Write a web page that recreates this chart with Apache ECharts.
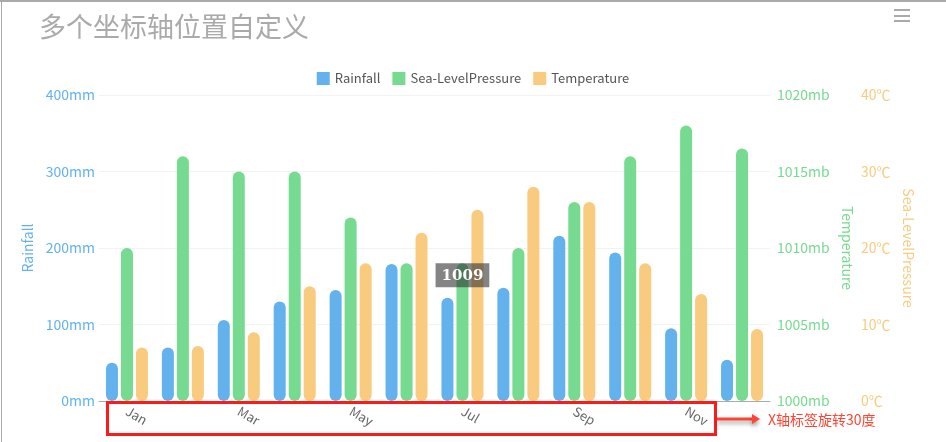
<!DOCTYPE html>
<html>
<head>
<meta charset="utf-8">
<title>多个坐标轴位置自定义</title>
<script src="https://cdn.jsdelivr.net/npm/echarts@6/dist/echarts.min.js"></script>
<style>
  html, body { margin: 0; padding: 0; background: #fff; }
  #main { width: 946px; height: 442px; }
</style>
</head>
<body>
<div id="main"></div>
<script>
var months = ['Jan', 'Feb', 'Mar', 'Apr', 'May', 'Jun', 'Jul', 'Aug', 'Sep', 'Oct', 'Nov', 'Dec'];
var rainfall = [50, 70, 106, 130, 145, 179, 135, 148, 216, 194, 95, 54];
var pressure = [1010, 1016, 1015, 1015, 1012, 1009, 1009, 1010, 1013, 1016, 1018, 1016.5];
var temperature = [7, 7.2, 9, 15, 18, 22, 25, 28, 26, 18, 14, 9.4];
var legendNames = ['Rainfall', 'Sea-LevelPressure', 'Temperature'];

var colors = ['#63b2ee', '#76da91', '#f8cb7f'];
var fontCN = '"Noto Sans CJK SC", "Noto Sans", sans-serif';

var chart = echarts.init(document.getElementById('main'));

// 气压柱子：Jul 那根带一个深色标签
var pressureData = pressure.map(function (v, i) {
    if (months[i] === 'Jul') {
        return {
            value: v,
            label: {
                show: true,
                position: 'insideTop',
                offset: [0, -5],
                formatter: '{c}',
                color: '#fff',
                fontFamily: '"DejaVu Serif", serif',
                fontWeight: 'bold',
                fontSize: 15,
                backgroundColor: 'rgba(50,50,50,0.6)',
                padding: [5, 6, 4, 6]
            }
        };
    }
    return v;
});

var barStyle = function (c) {
    return { color: c, borderRadius: 6 };
};

var option = {
    color: colors,
    textStyle: { fontFamily: fontCN },
    animation: false,
    title: {
        text: '多个坐标轴位置自定义',
        left: 34,
        top: 8,
        textStyle: { color: '#aaa', fontSize: 27, fontWeight: 'normal', fontFamily: fontCN }
    },
    legend: {
        data: legendNames,
        top: 67,
        left: 'center',
        itemWidth: 13,
        itemHeight: 13,
        itemGap: 12,
        icon: 'rect',
        textStyle: { color: '#555', fontSize: 13, fontFamily: fontCN }
    },
    grid: { left: 99, right: 176, top: 95, bottom: 41, containLabel: false },
    xAxis: {
        type: 'category',
        data: months,
        axisLine: { lineStyle: { color: '#aaa' } },
        axisTick: { show: false },
        axisLabel: {
            interval: 1,
            rotate: -30,
            margin: 9,
            color: '#666',
            fontSize: 13,
            fontFamily: fontCN
        }
    },
    yAxis: [
        {
            type: 'value',
            name: 'Rainfall',
            nameLocation: 'middle',
            nameGap: 60,
            nameRotate: 90,
            nameTextStyle: { color: colors[0], fontSize: 14, fontFamily: fontCN },
            position: 'left',
            min: 0, max: 400, interval: 100,
            axisLine: { show: false },
            axisTick: { show: false },
            axisLabel: { formatter: function (v) { return v + 'mm'; }, color: colors[0], fontSize: 14, margin: 4, fontFamily: fontCN },
            splitLine: { lineStyle: { color: '#f2f2f2' } }
        },
        {
            type: 'value',
            name: 'Temperature',
            nameLocation: 'middle',
            nameGap: 63,
            nameRotate: -90,
            nameTextStyle: { color: colors[1], fontSize: 14, fontFamily: fontCN },
            position: 'right',
            min: 1000, max: 1020, interval: 5,
            axisLine: { show: false },
            axisTick: { show: false },
            axisLabel: { formatter: function (v) { return v + 'mb'; }, color: colors[1], fontSize: 14, margin: 7, fontFamily: fontCN },
            splitLine: { show: false }
        },
        {
            type: 'value',
            name: 'Sea-LevelPressure',
            nameLocation: 'middle',
            nameGap: 44,
            nameRotate: -90,
            nameTextStyle: { color: colors[2], fontSize: 14, fontFamily: fontCN },
            position: 'right',
            offset: 84,
            min: 0, max: 40, interval: 10,
            axisLine: { show: false },
            axisTick: { show: false },
            axisLabel: { formatter: function (v) { return v + '℃'; }, color: colors[2], fontSize: 14, margin: 7, fontFamily: fontCN },
            splitLine: { show: false }
        }
    ],
    series: [
        {
            name: legendNames[0],
            type: 'bar',
            yAxisIndex: 0,
            barWidth: 12,
            barGap: '25%',
            itemStyle: barStyle(colors[0]),
            data: rainfall
        },
        {
            name: legendNames[1],
            type: 'bar',
            yAxisIndex: 1,
            barWidth: 12,
            barGap: '25%',
            itemStyle: barStyle(colors[1]),
            data: pressureData
        },
        {
            name: legendNames[2],
            type: 'bar',
            yAxisIndex: 2,
            barWidth: 12,
            barGap: '25%',
            itemStyle: barStyle(colors[2]),
            data: temperature
        }
    ],
    graphic: [
        // 外框
        { type: 'line', shape: { x1: 0, y1: 1, x2: 946, y2: 1 }, style: { stroke: '#aaa', lineWidth: 2 } },
        { type: 'line', shape: { x1: 1.5, y1: 0, x2: 1.5, y2: 442 }, style: { stroke: '#aaa', lineWidth: 1 } },
        // 右上角菜单图标
        { type: 'rect', shape: { x: 894, y: 9, width: 16, height: 2 }, style: { fill: '#aaa' } },
        { type: 'rect', shape: { x: 894, y: 15, width: 16, height: 2 }, style: { fill: '#aaa' } },
        { type: 'rect', shape: { x: 894, y: 20, width: 16, height: 2 }, style: { fill: '#aaa' } },
        // 红框标注
        {
            type: 'rect', z: 100,
            shape: { x: 107.5, y: 402.5, width: 608, height: 32 },
            style: { fill: 'none', stroke: '#ff1a1a', lineWidth: 3 }
        },
        {
            type: 'line', z: 100,
            shape: { x1: 717, y1: 419, x2: 754, y2: 419 },
            style: { stroke: '#f43', lineWidth: 3, shadowBlur: 4, shadowColor: 'rgba(0,0,0,0.35)', shadowOffsetY: 3 }
        },
        {
            type: 'polygon', z: 100,
            shape: { points: [[752, 414], [760, 419], [752, 424]] },
            style: { fill: '#f43', shadowBlur: 4, shadowColor: 'rgba(0,0,0,0.35)', shadowOffsetY: 3 }
        },
        {
            type: 'text', z: 100,
            x: 768, y: 420,
            style: {
                text: 'X轴标签旋转30度',
                fill: '#f43',
                fontSize: 14,
                fontFamily: fontCN,
                verticalAlign: 'middle'
            }
        }
    ]
};

chart.setOption(option);
</script>
</body>
</html>
